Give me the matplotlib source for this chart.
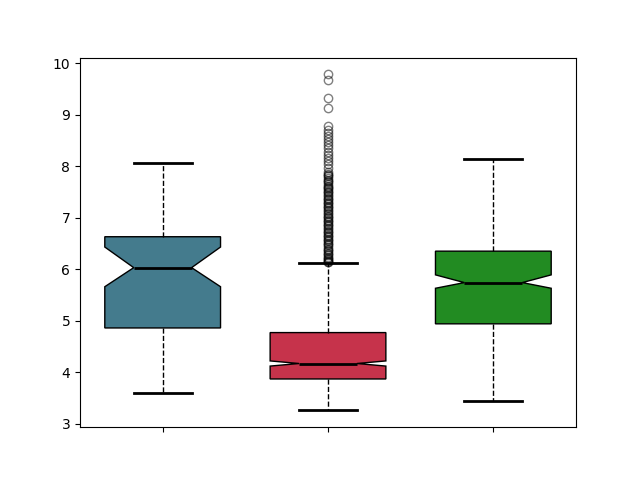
import matplotlib
matplotlib.use("Agg")
import matplotlib.pyplot as plt

labels = ["", "", ""]
medians = [6.03, 4.17, 5.74]
q1s = [4.86, 3.87, 4.94]
q3s = [6.63, 4.77, 6.35]
whislos = [3.60, 3.26, 3.45]
whishis = [8.06, 6.12, 8.14]
cilos = [5.66, 4.12, 5.63]
cihis = [6.43, 4.22, 5.89]
fliers_2 = [9.78, 9.68, 9.32, 9.12, 8.78, 8.70, 8.64, 8.58, 8.52, 8.47, 8.41, 8.35,
            8.28, 8.22, 8.16, 8.10, 8.04, 7.96, 7.88, 7.85, 7.82, 7.80, 7.77, 7.74,
            7.72, 7.69, 7.66, 7.62, 7.60, 7.58, 7.55, 7.52, 7.50, 7.47, 7.44, 7.42,
            7.39, 7.36, 7.34, 7.31, 7.28, 7.26, 7.23, 7.20, 7.18, 7.15, 7.12, 7.10,
            7.07, 7.04, 7.02, 6.99, 6.96, 6.94, 6.91, 6.88, 6.86, 6.83, 6.80, 6.78,
            6.75, 6.72, 6.70, 6.67, 6.64, 6.62, 6.59, 6.56, 6.54, 6.51, 6.48, 6.46,
            6.43, 6.40, 6.38, 6.35, 6.32, 6.30, 6.27, 6.24, 6.22, 6.19, 6.17, 6.15,
            6.14, 6.13]
fliers = [[], fliers_2, []]
colors = ["#447b8d", "#c6334b", "#228b22"]

stats = []
for i in range(3):
    stats.append(dict(med=medians[i], q1=q1s[i], q3=q3s[i], whislo=whislos[i],
                      whishi=whishis[i], cilo=cilos[i], cihi=cihis[i],
                      fliers=fliers[i], label=labels[i]))

fig, ax = plt.subplots(figsize=(6.4, 4.8), dpi=100)
bp = ax.bxp(stats, shownotches=True, patch_artist=True, widths=0.7,
            boxprops=dict(edgecolor="black", linewidth=1),
            medianprops=dict(color="black", linewidth=2),
            whiskerprops=dict(color="black", linestyle="--", linewidth=1),
            capprops=dict(color="black", linewidth=2),
            flierprops=dict(marker="o", markerfacecolor="none",
                            markeredgecolor="black", alpha=0.5, markersize=6))
for patch, c in zip(bp["boxes"], colors):
    patch.set_facecolor(c)
ax.set_xticklabels(labels)
fig.savefig("out.png")
